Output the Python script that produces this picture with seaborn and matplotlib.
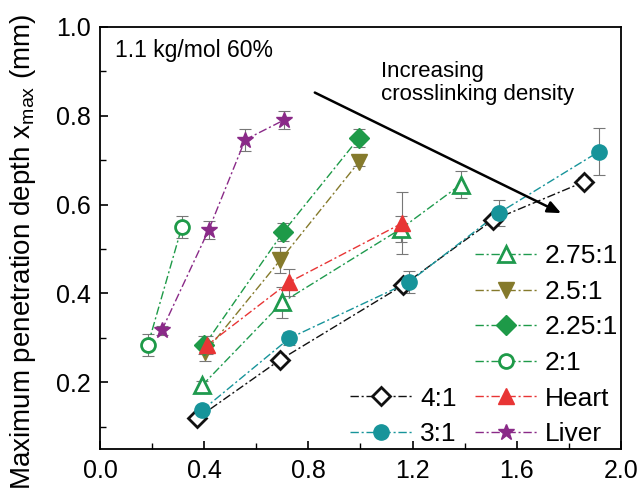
import matplotlib
matplotlib.use("Agg")
import matplotlib.pyplot as plt
from matplotlib.lines import Line2D
import seaborn as sns
import pandas as pd

sns.set_style("ticks")
plt.rcParams['font.family'] = ['Liberation Sans', 'DejaVu Sans']
for k in ['text.color', 'axes.labelcolor', 'xtick.color', 'ytick.color', 'axes.edgecolor']:
    plt.rcParams[k] = 'black'

labels = ["4:1", "3:1", "2.75:1", "2.5:1", "2.25:1", "2:1", "Heart", "Liver"]

x_41 = [0.373, 0.69, 1.165, 1.508, 1.858]
y_41 = [0.119, 0.250, 0.419, 0.565, 0.651]
e_41 = [0.005, 0.008, 0.008, 0.01, 0.01]

x_31 = [0.392, 0.727, 1.185, 1.531, 1.915]
y_31 = [0.137, 0.299, 0.425, 0.581, 0.719]
e_31 = [0.01, 0.015, 0.025, 0.03, 0.053]

x_275 = [0.392, 0.70, 1.154, 1.385]
y_275 = [0.193, 0.380, 0.545, 0.645]
e_275 = [0.01, 0.035, 0.03, 0.03]

x_25 = [0.404, 0.692, 0.994]
y_25 = [0.268, 0.475, 0.696]
e_25 = [0.02, 0.03, 0.01]

x_225 = [0.40, 0.703, 0.994]
y_225 = [0.283, 0.538, 0.750]
e_225 = [0.02, 0.02, 0.02]

x_21 = [0.183, 0.314]
y_21 = [0.283, 0.550]
e_21 = [0.025, 0.025]

x_heart = [0.41, 0.725, 1.16]
y_heart = [0.283, 0.425, 0.558]
e_heart = [0.02, 0.03, 0.07]

x_liver = [0.237, 0.417, 0.557, 0.705]
y_liver = [0.317, 0.543, 0.746, 0.790]
e_liver = [0.01, 0.02, 0.025, 0.02]

series = {
    "4:1": (x_41, y_41, e_41),
    "3:1": (x_31, y_31, e_31),
    "2.75:1": (x_275, y_275, e_275),
    "2.5:1": (x_25, y_25, e_25),
    "2.25:1": (x_225, y_225, e_225),
    "2:1": (x_21, y_21, e_21),
    "Heart": (x_heart, y_heart, e_heart),
    "Liver": (x_liver, y_liver, e_liver),
}

styles = {
    "4:1": dict(color="#111111", marker="D", mfc="white", mec="#111111", ms=9, mew=2),
    "3:1": dict(color="#17949a", marker="o", mfc="#17949a", mec="#17949a", ms=11, mew=1),
    "2.75:1": dict(color="#1f9a4e", marker="^", mfc="white", mec="#1f9a4e", ms=11, mew=2),
    "2.5:1": dict(color="#857a2c", marker="v", mfc="#857a2c", mec="#857a2c", ms=11, mew=1),
    "2.25:1": dict(color="#1e9a48", marker="D", mfc="#1e9a48", mec="#1e9a48", ms=10, mew=1),
    "2:1": dict(color="#1e9a48", marker="o", mfc="white", mec="#1e9a48", ms=10, mew=2),
    "Heart": dict(color="#e83535", marker="^", mfc="#e83535", mec="#e83535", ms=11, mew=1),
    "Liver": dict(color="#8a2a88", marker="*", mfc="#8a2a88", mec="#8a2a88", ms=12, mew=1),
}

dash = (0, (6, 2, 1.5, 2))

fig, ax = plt.subplots(figsize=(6.42, 4.90), dpi=100)
fig.subplots_adjust(left=0.156, right=0.967, top=0.945, bottom=0.084)

handles = {}
for lab in labels:
    xs, ys, es = series[lab]
    st = styles[lab]
    df = pd.DataFrame({"x": xs, "y": ys})
    ax.errorbar(xs, ys, yerr=es, fmt="none", ecolor="#777777", elinewidth=0.8,
                capsize=4, capthick=0.8, zorder=2)
    sns.lineplot(data=df, x="x", y="y", ax=ax, color=st["color"], lw=1.0,
                 linestyle=dash, sort=False, estimator=None, zorder=3)
    ax.plot(xs, ys, ls="none", marker=st["marker"], ms=st["ms"], mfc=st["mfc"],
            mec=st["mec"], mew=st["mew"], zorder=4)
    handles[lab] = Line2D([], [], color=st["color"], lw=1.0, linestyle=dash,
                          marker=st["marker"], ms=st["ms"], mfc=st["mfc"],
                          mec=st["mec"], mew=st["mew"])

blank = Line2D([], [], ls="none", marker=None)
leg_handles = [blank] * 4 + [handles["4:1"], handles["3:1"]] + \
    [handles[k] for k in ["2.75:1", "2.5:1", "2.25:1", "2:1", "Heart", "Liver"]]
leg_labels = [""] * 4 + ["4:1", "3:1"] + ["2.75:1", "2.5:1", "2.25:1", "2:1", "Heart", "Liver"]
ax.legend(leg_handles, leg_labels, ncol=2, loc="lower right", frameon=False,
          fontsize=19, handlelength=2.35, handletextpad=0.3, columnspacing=0.7,
          labelspacing=0.44, borderaxespad=0.0, borderpad=0.1)

ax.set_xlim(0, 2.0)
ax.set_ylim(0.05, 1.0)
ax.set_xticks([0.0, 0.4, 0.8, 1.2, 1.6, 2.0])
ax.set_xticklabels(["0.0", "0.4", "0.8", "1.2", "1.6", "2.0"])
ax.set_yticks([0.2, 0.4, 0.6, 0.8, 1.0])
ax.set_yticklabels(["0.2", "0.4", "0.6", "0.8", "1.0"])
ax.set_xticks([0.2, 0.6, 1.0, 1.4, 1.8], minor=True)
ax.set_yticks([0.1, 0.3, 0.5, 0.7, 0.9], minor=True)
ax.tick_params(which="major", direction="in", length=6, width=1.2, labelsize=18, pad=7)
ax.tick_params(which="minor", direction="in", length=4, width=1.0)
for s in ax.spines.values():
    s.set_linewidth(1.3)
    s.set_visible(True)

ax.set_xlabel("")
ax.set_ylabel("Maximum penetration depth x$_{\\mathregular{max}}$ (mm)", fontsize=20)
ax.yaxis.set_label_coords(-0.12, 0.467)

ax.text(0.029, 0.972, "1.1 kg/mol 60%", transform=ax.transAxes, fontsize=16.5,
        va="top", ha="left")
ax.text(1.077, 0.874, "Increasing\ncrosslinking density", fontsize=16,
        va="center", ha="left", linespacing=1.15)
ax.annotate("", xy=(1.78, 0.578), xytext=(0.815, 0.855),
            arrowprops=dict(arrowstyle="-|>,head_length=0.8,head_width=0.35",
                            color="black", lw=1.8))

fig.savefig("out.png", dpi=100)
